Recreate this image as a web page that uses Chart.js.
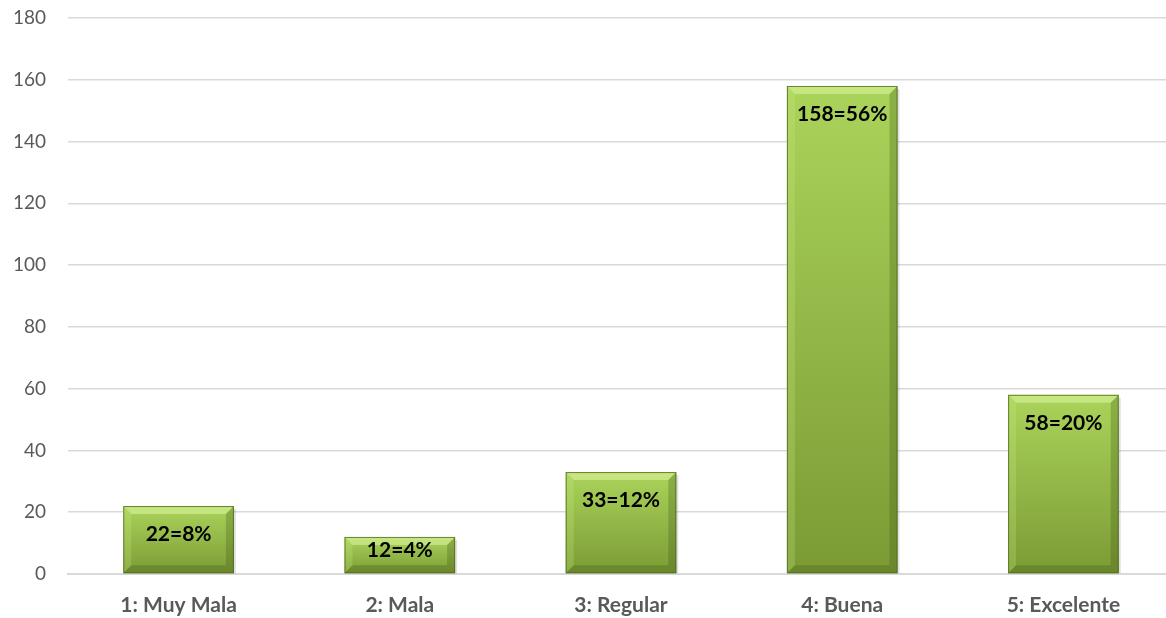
<!DOCTYPE html>
<html>
<head>
<meta charset="utf-8">
<script src="https://cdn.jsdelivr.net/npm/chart.js@4.4.1/dist/chart.umd.min.js"></script>
<style>
    html, body { margin: 0; padding: 0; background: #fff; overflow: hidden; }
    #wrap { width: 1176px; height: 618px; position: relative; }
</style>
</head>
<body>
<div id="wrap"><canvas id="valoracionChart"></canvas></div>
<script>
const categories = ['1: Muy Mala', '2: Mala', '3: Regular', '4: Buena', '5: Excelente'];
const counts = [22, 12, 33, 158, 58];
const pctLabels = ['8%', '4%', '12%', '56%', '20%'];
const yTicks = [0, 20, 40, 60, 80, 100, 120, 140, 160, 180];

const FONT = "Lato, 'Open Sans', sans-serif";
const GREY = '#595959';

// gradient from top of bar (light) to the base (darker)
function barFill(context) {
    const chart = context.chart;
    const yScale = chart.scales.y;
    if (!yScale || !context.parsed) return '#93b843';
    const top = yScale.getPixelForValue(context.parsed.y);
    const base = yScale.getPixelForValue(0);
    if (!isFinite(top) || !isFinite(base)) return '#93b843';
    const g = chart.ctx.createLinearGradient(0, top, 0, base);
    g.addColorStop(0, '#abd45b');
    g.addColorStop(1, '#7b9a34');
    return g;
}

const bevelPlugin = {
    id: 'bevel',
    afterDatasetsDraw(chart) {
        const ctx = chart.ctx;
        const meta = chart.getDatasetMeta(0);
        meta.data.forEach((bar, i) => {
            const half = bar.width / 2;
            const l = bar.x - half, r = bar.x + half;
            const t = bar.y, b = bar.base;
            const s = Math.min(8, (b - t) / 3);
            ctx.save();
            // top
            ctx.fillStyle = 'rgba(220,245,160,0.55)';
            ctx.beginPath();
            ctx.moveTo(l, t); ctx.lineTo(r, t); ctx.lineTo(r - s, t + s); ctx.lineTo(l + s, t + s); ctx.closePath();
            ctx.fill();
            // left
            ctx.fillStyle = 'rgba(200,235,130,0.25)';
            ctx.beginPath();
            ctx.moveTo(l, t); ctx.lineTo(l + s, t + s); ctx.lineTo(l + s, b - s); ctx.lineTo(l, b); ctx.closePath();
            ctx.fill();
            // right
            ctx.fillStyle = 'rgba(60,85,20,0.28)';
            ctx.beginPath();
            ctx.moveTo(r, t); ctx.lineTo(r - s, t + s); ctx.lineTo(r - s, b - s); ctx.lineTo(r, b); ctx.closePath();
            ctx.fill();
            // bottom
            ctx.fillStyle = 'rgba(50,75,15,0.25)';
            ctx.beginPath();
            ctx.moveTo(l, b); ctx.lineTo(l + s, b - s); ctx.lineTo(r - s, b - s); ctx.lineTo(r, b); ctx.closePath();
            ctx.fill();
            // outline
            ctx.strokeStyle = 'rgba(80,105,30,0.8)';
            ctx.lineWidth = 1;
            ctx.strokeRect(l + 0.5, t + 0.5, bar.width - 1, b - t - 1);
            // shadow on right
            ctx.fillStyle = 'rgba(0,0,0,0.12)';
            ctx.fillRect(r, t + 3, 2, b - t - 3);

            // value label
            const label = counts[i] + '=' + pctLabels[i];
            ctx.font = 'bold 21px ' + FONT;
            ctx.fillStyle = '#000';
            ctx.textAlign = 'center';
            ctx.textBaseline = 'middle';
            const ly = Math.min(t + 28, b - 23);
            ctx.fillText(label, bar.x, ly);
            ctx.restore();
        });
    }
};

const ctx = document.getElementById('valoracionChart').getContext('2d');
new Chart(ctx, {
    type: 'bar',
    data: {
        labels: categories,
        datasets: [{
            data: counts,
            backgroundColor: barFill,
            borderWidth: 0,
            categoryPercentage: 1,
            barPercentage: 0.5
        }]
    },
    options: {
        responsive: true,
        maintainAspectRatio: false,
        animation: false,
        layout: { padding: { top: 18, right: 2, left: 0, bottom: 0 } },
        plugins: {
            legend: { display: false },
            tooltip: { enabled: false }
        },
        scales: {
            y: {
                min: 0,
                max: 180,
                afterBuildTicks(axis) {
                    axis.ticks = yTicks.map(v => ({ value: v }));
                },
                afterFit(axis) {
                    axis.width = 68;
                    axis.paddingTop = 0;
                    axis.paddingBottom = 0;
                },
                ticks: {
                    color: GREY,
                    padding: 22,
                    font: { family: FONT, size: 19 }
                },
                grid: { color: '#d9d9d9', lineWidth: 1.5, drawTicks: false },
                border: { display: false }
            },
            x: {
                afterFit(axis) { axis.height = 44; },
                ticks: {
                    color: GREY,
                    padding: 19,
                    font: { family: FONT, size: 21, weight: 'bold' }
                },
                grid: { display: false, drawTicks: false },
                border: { display: true, color: '#d9d9d9', width: 2 }
            }
        }
    },
    plugins: [bevelPlugin]
});
</script>
</body>
</html>
